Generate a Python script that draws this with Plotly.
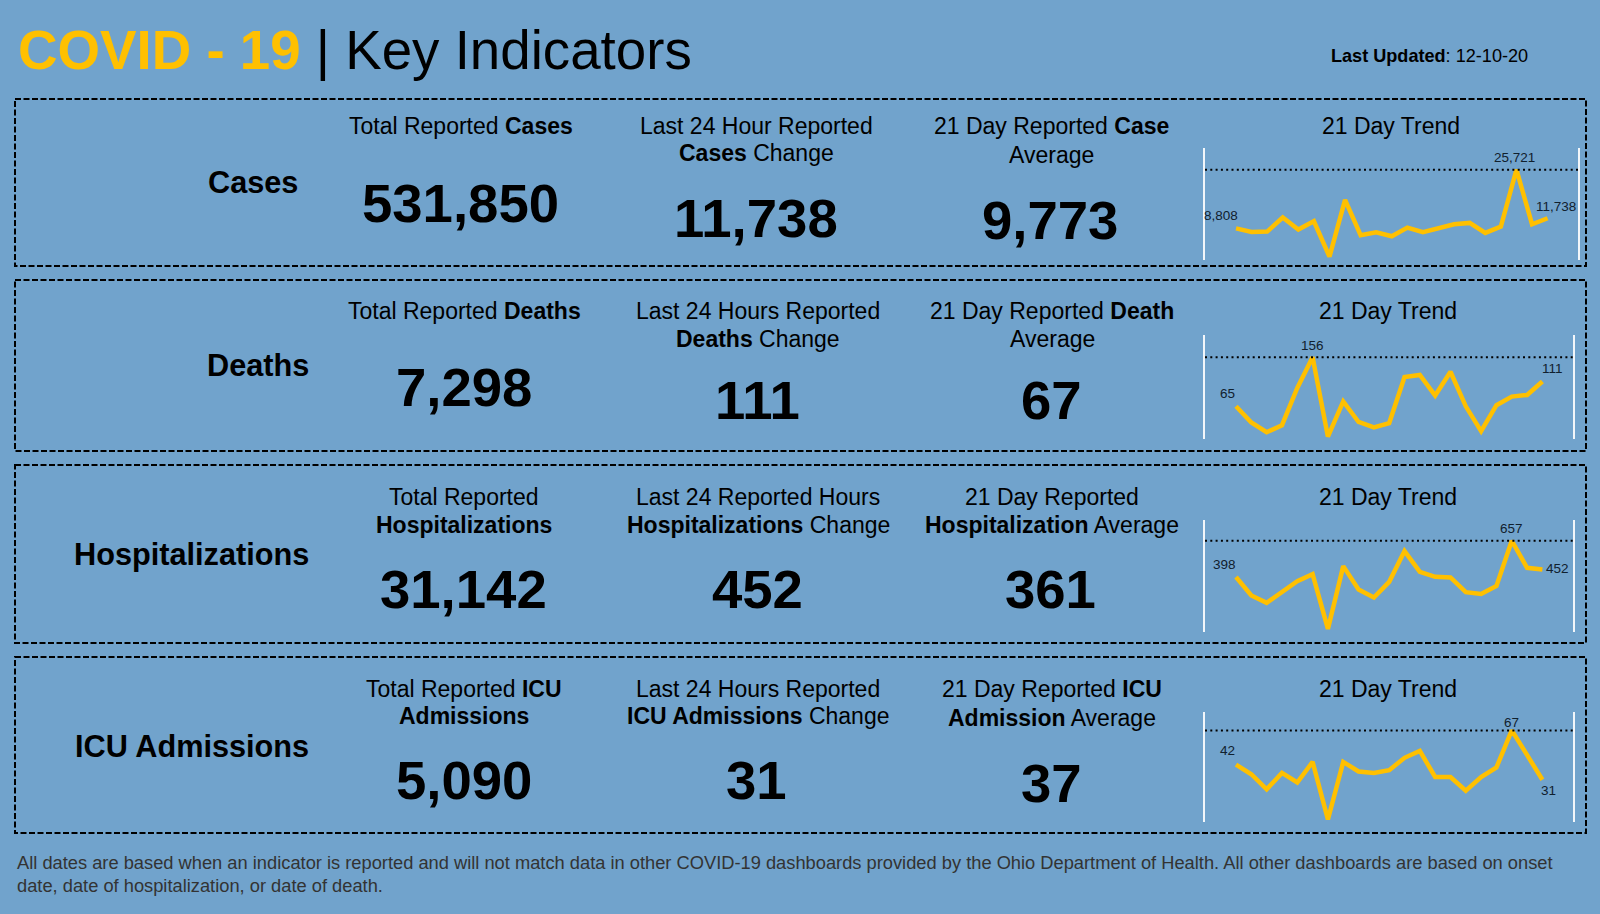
import plotly.graph_objects as go
from plotly.subplots import make_subplots

W, H = 1600, 914
BG = "#71A3CC"
GOLD = "#FFC000"
FONT = "Liberation Sans"

# Data: 21 day trend for each indicator
trend = {
    "Cases": [8808, 7791, 7887, 11936, 8465, 10875, 656, 17045, 6827, 7694, 6537,
              9044, 7694, 8754, 10007, 10393, 7501, 9333, 25721, 10007, 11738],
    "Deaths": [65, 35, 17, 30, 99, 156, 9, 74, 36, 26, 34,
               119, 123, 85, 129, 65, 19, 67, 83, 86, 111],
    "Hospitalizations": [398, 266, 214, 292, 369, 419, 28, 476, 309, 252, 364,
                         583, 435, 400, 395, 290, 278, 335, 657, 464, 452],
    "ICU Admissions": [42, 35, 24, 36, 29, 44, 2, 44, 37, 36, 38,
                       47, 52, 33, 33, 23, 33, 40, 67, 49, 31],
}

# pixel box of each spark chart: left, right, top, bottom, px per day, y range
spark = {
    "Cases": (1205, 1578, 148, 260, 15.58, [-304, 31987]),
    "Deaths": (1205, 1573, 335, 439, 15.32, [4.5, 197]),
    "Hospitalizations": (1205, 1573, 520, 632, 15.32, [6, 805]),
    "ICU Admissions": (1205, 1573, 712, 822, 15.32, [0.2, 80.4]),
}

# value labels: index, text, x offset, y offset
spark_labels = {
    "Cases": [(0, "8,808", -15, 13), (18, "25,721", -2, 12), (20, "11,738", 8, 12)],
    "Deaths": [(0, "65", -9, 13), (5, "156", 0, 12), (20, "111", 10, 13)],
    "Hospitalizations": [(0, "398", -12, 13), (18, "657", 0, 12), (20, "452", 15, 1)],
    "ICU Admissions": [(0, "42", -9, 14), (18, "67", 0, 8), (20, "31", 6, -11)],
}

boxes = [(15, 99, 1586, 266), (15, 280, 1586, 451), (15, 465, 1586, 643), (15, 657, 1586, 833)]

# x, y, text, size, anchor
texts = [
    (16, 50, f"<b><span style='color:{GOLD}'>COVID - 19</span></b> | Key Indicators", 54.7, "left"),
    (1329, 56, "<b>Last Updated</b>: 12-10-20", 18.1, "left"),

    (300, 183, "<b>Cases</b>", 30.7, "right"),
    (460.5, 126, "Total Reported <b>Cases</b>", 23, "center"),
    (756, 126, "Last 24 Hour Reported", 23, "center"),
    (756, 153, "<b>Cases</b> Change", 23, "center"),
    (1051, 126, "21 Day Reported <b>Case</b>", 23, "center"),
    (1051, 155, "Average", 23, "center"),
    (1391, 126, "21 Day Trend", 23, "center"),
    (460.5, 204, "<b>531,850</b>", 54.5, "center"),
    (756, 218.5, "<b>11,738</b>", 54.5, "center"),
    (1050, 220, "<b>9,773</b>", 54.5, "center"),

    (311, 366, "<b>Deaths</b>", 30.7, "right"),
    (464.5, 311, "Total Reported <b>Deaths</b>", 23, "center"),
    (758, 311, "Last 24 Hours Reported", 23, "center"),
    (758, 339, "<b>Deaths</b> Change", 23, "center"),
    (1052, 311, "21 Day Reported <b>Death</b>", 23, "center"),
    (1052, 339, "Average", 23, "center"),
    (1388, 311, "21 Day Trend", 23, "center"),
    (464, 387, "<b>7,298</b>", 54.5, "center"),
    (757, 400, "<b>111</b>", 54.5, "center"),
    (1051, 400, "<b>67</b>", 54.5, "center"),

    (311, 554, "<b>Hospitalizations</b>", 30.7, "right"),
    (464, 497, "Total Reported", 23, "center"),
    (464, 524.5, "<b>Hospitalizations</b>", 23, "center"),
    (758, 497, "Last 24 Reported Hours", 23, "center"),
    (758, 524.5, "<b>Hospitalizations</b> Change", 23, "center"),
    (1052, 497, "21 Day Reported", 23, "center"),
    (1052, 524.5, "<b>Hospitalization</b> Average", 23, "center"),
    (1388, 497, "21 Day Trend", 23, "center"),
    (464, 589, "<b>31,142</b>", 54.5, "center"),
    (757, 589, "<b>452</b>", 54.5, "center"),
    (1050, 589, "<b>361</b>", 54.5, "center"),

    (311, 746, "<b>ICU Admissions</b>", 30.7, "right"),
    (464.5, 688.5, "Total Reported <b>ICU</b>", 23, "center"),
    (464, 715.5, "<b>Admissions</b>", 23, "center"),
    (758, 688.5, "Last 24 Hours Reported", 23, "center"),
    (758, 715.5, "<b>ICU Admissions</b> Change", 23, "center"),
    (1052, 688.5, "21 Day Reported <b>ICU</b>", 23, "center"),
    (1052, 718, "<b>Admission</b> Average", 23, "center"),
    (1388, 688.5, "21 Day Trend", 23, "center"),
    (464, 780, "<b>5,090</b>", 54.5, "center"),
    (756, 780, "<b>31</b>", 54.5, "center"),
    (1051, 783, "<b>37</b>", 54.5, "center"),
]

footer = [
    (15, 862, "All dates are based when an indicator is reported and will not match data in other COVID-19 dashboards provided by the Ohio Department of Health. All other dashboards are based on onset"),
    (15, 885, "date, date of hospitalization, or date of death."),
]

fig = make_subplots(rows=4, cols=1)

for i, (name, vals) in enumerate(trend.items(), start=1):
    left, right, top, bottom, step, yrange = spark[name]
    # day index 0 sits at pixel 1236
    xrange = [(left - 1236) / step, (right - 1236) / step]
    fig.add_trace(
        go.Scatter(
            x=list(range(len(vals))),
            y=vals,
            mode="lines",
            line=dict(color=GOLD, width=4.5),
            showlegend=False,
            hoverinfo="skip",
        ),
        row=i, col=1,
    )
    fig.update_xaxes(
        domain=[left / W, right / W], range=xrange, visible=False, row=i, col=1,
    )
    fig.update_yaxes(
        domain=[1 - bottom / H, 1 - top / H], range=yrange, showgrid=False, zeroline=False,
        showticklabels=False, ticks="", showline=True, mirror=True, linecolor="#F2F6FA",
        linewidth=1.5, row=i, col=1,
    )
    fig.add_hline(
        y=max(vals), line=dict(color="black", width=2, dash="2px,3.3px"), row=i, col=1,
    )
    for idx, label, dx, dy in spark_labels[name]:
        fig.add_annotation(
            x=idx, y=vals[idx], text=label, showarrow=False, xshift=dx, yshift=dy,
            font=dict(size=13.5, color="#10202E"), row=i, col=1,
        )

for x0, y0, x1, y1 in boxes:
    fig.add_shape(
        type="rect", xref="paper", yref="paper",
        x0=x0 / W, x1=x1 / W, y0=1 - y0 / H, y1=1 - y1 / H,
        line=dict(color="black", width=2, dash="6px,2.5px"),
    )

for x, y, s, size, anchor in texts:
    fig.add_annotation(
        x=x / W, y=1 - y / H, xref="paper", yref="paper", text=s, showarrow=False,
        xanchor=anchor, yanchor="middle", font=dict(size=size, color="black"),
    )

for x, y, s in footer:
    fig.add_annotation(
        x=x / W, y=1 - y / H, xref="paper", yref="paper", text=s, showarrow=False,
        xanchor="left", yanchor="middle", font=dict(size=18.3, color="#333333"),
    )

fig.update_layout(
    width=W,
    height=H,
    margin=dict(l=0, r=0, t=0, b=0),
    paper_bgcolor=BG,
    plot_bgcolor=BG,
    font=dict(family=FONT, color="black"),
)

fig.write_html(
    "out.html",
    config={"displayModeBar": False},
    post_script="document.body.style.margin='0';document.body.style.overflow='hidden';",
)
